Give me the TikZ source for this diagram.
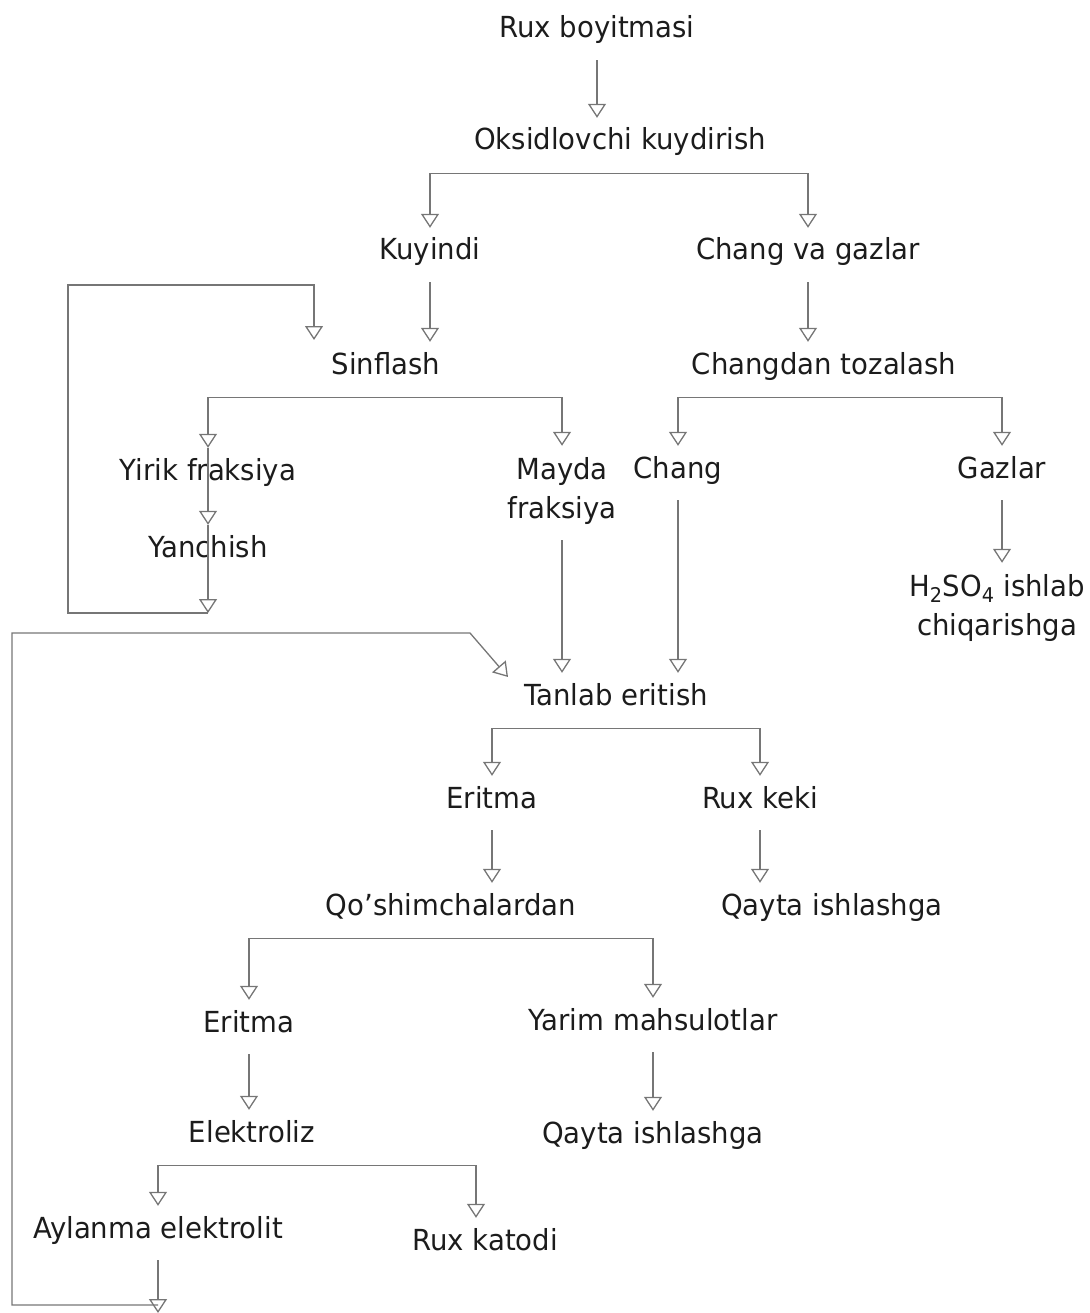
\documentclass[tikz,border=0pt]{standalone}
\usepackage{fontspec}
\setmainfont{DejaVu Sans}[FakeStretch=0.95]
\usetikzlibrary{arrows.meta}
\definecolor{linec}{RGB}{118,118,118}
\definecolor{textc}{RGB}{28,28,28}

\begin{document}
\begin{tikzpicture}[x=1pt, y=-1pt,
    lbl/.style={font=\fontsize{29}{39}\selectfont, text=textc, align=center,
      inner xsep=0pt, inner ysep=11pt, anchor=base},
    box/.style={lbl, text height=21pt, text depth=6pt},
    line/.style={draw=linec, line width=1.3pt},
    arr/.style={line, -{Triangle[open, length=14pt, width=18pt]}},
    go/.style={arr, shorten <=5pt}]
  \useasboundingbox (0,0) rectangle (1089,1313);
  \node[box] (rb) at (597,38) {Rux boyitmasi};
  \node[box] (ok) at (620,150) {Oksidlovchi kuydirish};
  \node[box] (ku) at (430,260) {Kuyindi};
  \node[box] (cg) at (808,260) {Chang va gazlar};
  \node[box] (sf) at (386,374) {Sinflash};
  \node[box] (ct) at (824,374) {Changdan tozalash};
  \node[box] (yf) at (208,480) {Yirik fraksiya};
  \node[lbl] (mf) at (562,518) {Mayda\\fraksiya};
  \node[box] (ch) at (678,478) {Chang};
  \node[box] (gz) at (1002,478) {Gazlar};
  \node[box] (yc) at (208,557) {Yanchish};
  \node[lbl] (hs) at (997,635) {H\textsubscript{2}SO\textsubscript{4} ishlab\\chiqarishga};
  \node[box] (te) at (616,705) {Tanlab eritish};
  \node[box] (e1) at (492,808) {Eritma};
  \node[box] (rk) at (760,808) {Rux keki};
  \node[box] (qs) at (451,915) {Qo’shimchalardan};
  \node[box] (q1) at (832,915) {Qayta ishlashga};
  \node[box] (e2) at (249,1032) {Eritma};
  \node[box] (ym) at (653,1030) {Yarim mahsulotlar};
  \node[box] (el) at (252,1142) {Elektroliz};
  \node[box] (q2) at (653,1143) {Qayta ishlashga};
  \node[box] (ae) at (158,1238) {Aylanma elektrolit};
  \node[box] (rc) at (485,1250) {Rux katodi};
  \coordinate (rct) at ([xshift=-9pt]rc.north);
  \foreach \a/\b in {rb/ok, ku/sf, cg/ct, gz/hs, mf/te, ch/te, e1/qs,
    rk/q1, e2/el, ym/q2}
    \draw[go] (\a.south) -- (\a |- \b.north);
  \foreach \p/\l/\r in {ok/ku/cg, sf/yf/mf, ct/ch/gz, te/e1/rk, qs/e2/ym, el/ae/rct} {
    \coordinate (\p b) at ([yshift=-6pt]\p.south);
    \draw[arr] (\p b -| \l) -- (\l.north);
    \draw[arr] (\p b -| \l) -- (\p b -| \r) -- (\r.north);
  }
  \coordinate (lpa) at (208,613);
  \coordinate (sfin) at (314,340);
  \draw[arr] (yf.north) -- (yc.north);
  \draw[arr] (yc.north) -- (lpa);
  \draw[arr] (lpa) -| (68,285) -| (sfin);
  \coordinate (lpb) at (158,1305);
  \coordinate (tein) at (508,677);
  \draw[go] (ae.south) -- ([yshift=-8pt]lpb);
  \draw[arr] (lpb) -| (12,633) -- (470,633) -- (tein);
\end{tikzpicture}
\end{document}
